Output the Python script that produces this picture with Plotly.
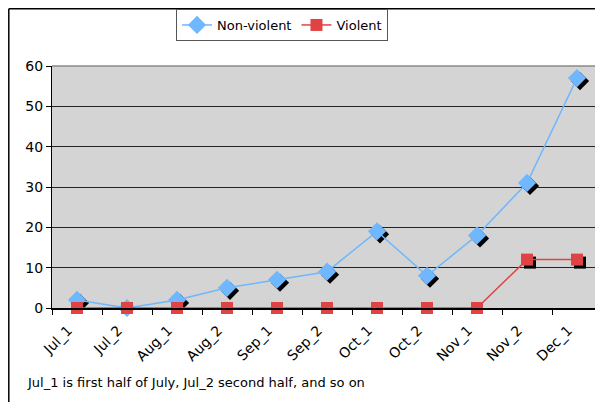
import plotly.graph_objects as go

categories = ["Jul_1", "Jul_2", "Aug_1", "Aug_2", "Sep_1", "Sep_2",
              "Oct_1", "Oct_2", "Nov_1", "Nov_2", "Dec_1"]
non_violent = [2, 0, 2, 5, 7, 9, 19, 8, 18, 31, 57]
violent = [0, 0, 0, 0, 0, 0, 0, 0, 0, 12, 12]
y_ticks = [0, 10, 20, 30, 40, 50, 60]
footnote = "Jul_1 is first half of July, Jul_2 second half, and so on"

OFF = 8  # page body margin
W, H = 603 - OFF, 402 - OFF
ML, MR, MT, MB = 52 - OFF, 1, 66 - OFF, 94
PW = W - ML - MR
PH = H - MT - MB
n = len(categories)
xr = [-0.5, n - 0.5]
yr = [0, 60]
sh_px = 3
dx = sh_px * (xr[1] - xr[0]) / PW
dy = sh_px * (yr[1] - yr[0]) / PH

BLUE = "#6FB7FF"
RED = "#E04343"
FONT = "DejaVu Sans"
FS = 13
TFS = 14


def px_x(x):
    return (x - OFF - ML) / PW


def px_y(y):
    return (H - MB - (y - OFF)) / PH


fig = go.Figure()

# shadows (on hidden, offset base axes)
fig.add_trace(go.Scatter(x=categories, y=non_violent, xaxis="x", yaxis="y",
                         mode="markers", marker=dict(symbol="diamond", size=14, color="black"),
                         showlegend=False, hoverinfo="skip", cliponaxis=False))
fig.add_trace(go.Scatter(x=categories, y=violent, xaxis="x", yaxis="y",
                         mode="markers", marker=dict(symbol="square", size=12, color="black"),
                         showlegend=False, hoverinfo="skip", cliponaxis=False))

fig.add_trace(go.Scatter(x=categories, y=non_violent, name="Non-violent", xaxis="x2", yaxis="y2",
                         mode="lines+markers", line=dict(color=BLUE, width=1.5),
                         marker=dict(symbol="diamond", size=14, color=BLUE),
                         cliponaxis=False))
fig.add_trace(go.Scatter(x=categories, y=violent, name="Violent", xaxis="x2", yaxis="y2",
                         mode="lines+markers", line=dict(color=RED, width=1.5),
                         marker=dict(symbol="square", size=12, color=RED),
                         cliponaxis=False))

fig.update_layout(
    width=W, height=H,
    margin=dict(l=ML, r=MR, t=MT, b=MB, autoexpand=False),
    paper_bgcolor="white",
    plot_bgcolor="#D4D4D4",
    font=dict(family=FONT, size=FS, color="black"),
    showlegend=True,
    legend=dict(orientation="h", x=px_x(282), xanchor="center",
                y=px_y(9), yanchor="top",
                bordercolor="#555555", borderwidth=1, bgcolor="white",
                font=dict(family=FONT, size=FS), itemwidth=30,
                tracegroupgap=0),
    xaxis=dict(type="category", categoryorder="array", categoryarray=categories,
               range=[xr[0] - dx, xr[1] - dx], visible=False, showgrid=False),
    yaxis=dict(range=[yr[0] + dy, yr[1] + dy], visible=False, showgrid=False, zeroline=False),
    xaxis2=dict(type="category", categoryorder="array", categoryarray=categories,
                overlaying="x", anchor="y2", side="bottom",
                range=xr, tickangle=-45, ticks="outside", ticklen=5, tickcolor="black",
                tickson="boundaries", showgrid=False, showline=True, linecolor="black",
                linewidth=1.5, tickfont=dict(family=FONT, size=TFS), zeroline=False,
                ticklabelstandoff=7, ticklabelshift=-9),
    yaxis2=dict(overlaying="y", anchor="x2", side="left",
                range=yr, tickvals=y_ticks, ticks="outside", ticklen=5, tickcolor="black",
                showgrid=True, gridcolor="#222222", gridwidth=1, showline=True,
                linecolor="black", linewidth=1, zeroline=False,
                tickfont=dict(family=FONT, size=TFS)),
)

# plot border (top/right gray)
fig.add_shape(type="line", xref="paper", yref="paper", x0=0, x1=1, y0=1, y1=1,
              line=dict(color="#8A8A8A", width=1.5), layer="above")
fig.add_shape(type="line", xref="paper", yref="paper", x0=1, x1=1, y0=0, y1=1,
              line=dict(color="#8A8A8A", width=1.5), layer="above")

# outer chart border (top and left)
fig.add_shape(type="line", xref="paper", yref="paper",
              x0=px_x(8.8), x1=px_x(603), y0=px_y(8.8), y1=px_y(8.8),
              line=dict(color="black", width=1.5))
fig.add_shape(type="line", xref="paper", yref="paper",
              x0=px_x(8.8), x1=px_x(8.8), y0=px_y(8.8), y1=px_y(402),
              line=dict(color="black", width=1.5))

fig.add_annotation(text=footnote, xref="paper", yref="paper",
                   x=px_x(25), y=px_y(382),
                   xanchor="left", yanchor="middle", showarrow=False,
                   font=dict(family=FONT, size=FS, color="black"))

fig.write_html("out.html")
